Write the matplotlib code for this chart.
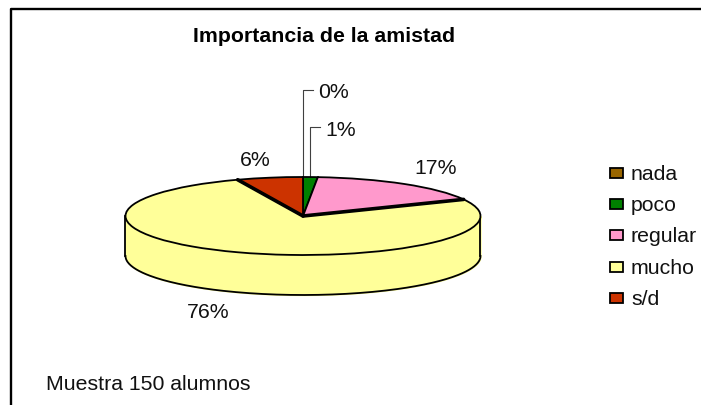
import matplotlib
matplotlib.use("Agg")
import matplotlib.pyplot as plt
from matplotlib.patches import Rectangle
import numpy as np

plt.rcParams['font.family'] = ['Liberation Sans', 'DejaVu Sans']

title = "Importancia de la amistad"
note = "Muestra 150 alumnos"
categories = ["nada", "poco", "regular", "mucho", "s/d"]
values = [0, 2, 25, 114, 9]
pct_labels = ["0%", "1%", "17%", "76%", "6%"]
colors = ["#996600", "#008000", "#FF99CC", "#FFFF99", "#CC3300"]

W, H = 701, 405
FS = 15.3
fig = plt.figure(figsize=(W / 100, H / 100), dpi=100, facecolor="white")

# full figure overlay in pixels, y going down like the picture
bg = fig.add_axes([0, 0, 1, 1])
bg.set_xlim(0, W)
bg.set_ylim(H, 0)
bg.axis("off")

# pie axes: the ellipse of the top face
cx, cy, rx, ry, depth = 303, 216, 177.5, 39, 40
ax = fig.add_axes([(cx - rx) / W, 1 - (cy + ry) / H, 2 * rx / W, 2 * ry / H])
ax.pie(values, colors=colors, startangle=90, counterclock=False, radius=1,
       wedgeprops=dict(edgecolor="black", linewidth=1.3), normalize=True)
ax.set_aspect("auto")
ax.set_xlim(-1, 1)
ax.set_ylim(-1, 1)

# side wall of the pie, all of it belongs to "mucho"
d = depth / ry
t = np.linspace(np.pi, 2 * np.pi, 200)
ax.fill_between(np.cos(t), np.sin(t), np.sin(t) - d, color=colors[3], zorder=0, clip_on=False)
ax.plot(np.cos(t), np.sin(t) - d, color="black", lw=1.3, clip_on=False, zorder=0.5)
ax.plot([-1, -1], [0, -d], color="black", lw=1.3, clip_on=False, zorder=0.5)
ax.plot([1, 1], [0, -d], color="black", lw=1.3, clip_on=False, zorder=0.5)

# angles of the slice edges, clockwise from the top
edges = np.cumsum(values) / np.sum(values) * 2 * np.pi

# the two thick edges around "mucho"
for a in (edges[2], edges[3]):
    ax.plot([0, np.sin(a)], [0, np.cos(a)], color="black", lw=2.6, clip_on=False,
            solid_capstyle="round", zorder=5)

# leader lines for the small slices
for a, top, lab, ly in ((edges[0], 90, pct_labels[0], 92), ((edges[0] + edges[1]) / 2, 127, pct_labels[1], 131)):
    px = cx + rx * np.sin(a)
    py = cy - ry * np.cos(a)
    bg.plot([px, px, px + 10], [py, top, top], color="#404040", lw=0.8)
    bg.text(px + 15, ly, lab, fontsize=FS, va="center", ha="left", color="#111111")

bg.text(436, 168, pct_labels[2], fontsize=FS, va="center", ha="center", color="#111111")
bg.text(208, 313, pct_labels[3], fontsize=FS, va="center", ha="center", color="#111111")
bg.text(255, 161, pct_labels[4], fontsize=FS, va="center", ha="center", color="#111111")

bg.text(324.5, 36, title, fontsize=FS, fontweight="bold", va="center", ha="center", color="black")
bg.text(46, 385, note, fontsize=FS, va="center", ha="left", color="#111111")

# legend
for i, (c, lab) in enumerate(zip(colors, categories)):
    y = 172.5 + i * 31.4
    bg.add_patch(Rectangle((610, y - 5), 12.5, 10, facecolor=c, edgecolor="black", lw=1.3))
    bg.text(631, y + 1.5, lab, fontsize=FS, va="center", ha="left", color="#111111")

# chart frame, open on the right
bg.plot([11, 11, W], [H, 9, 9], color="black", lw=1.7)

fig.savefig("out.png", dpi=100, facecolor="white")
